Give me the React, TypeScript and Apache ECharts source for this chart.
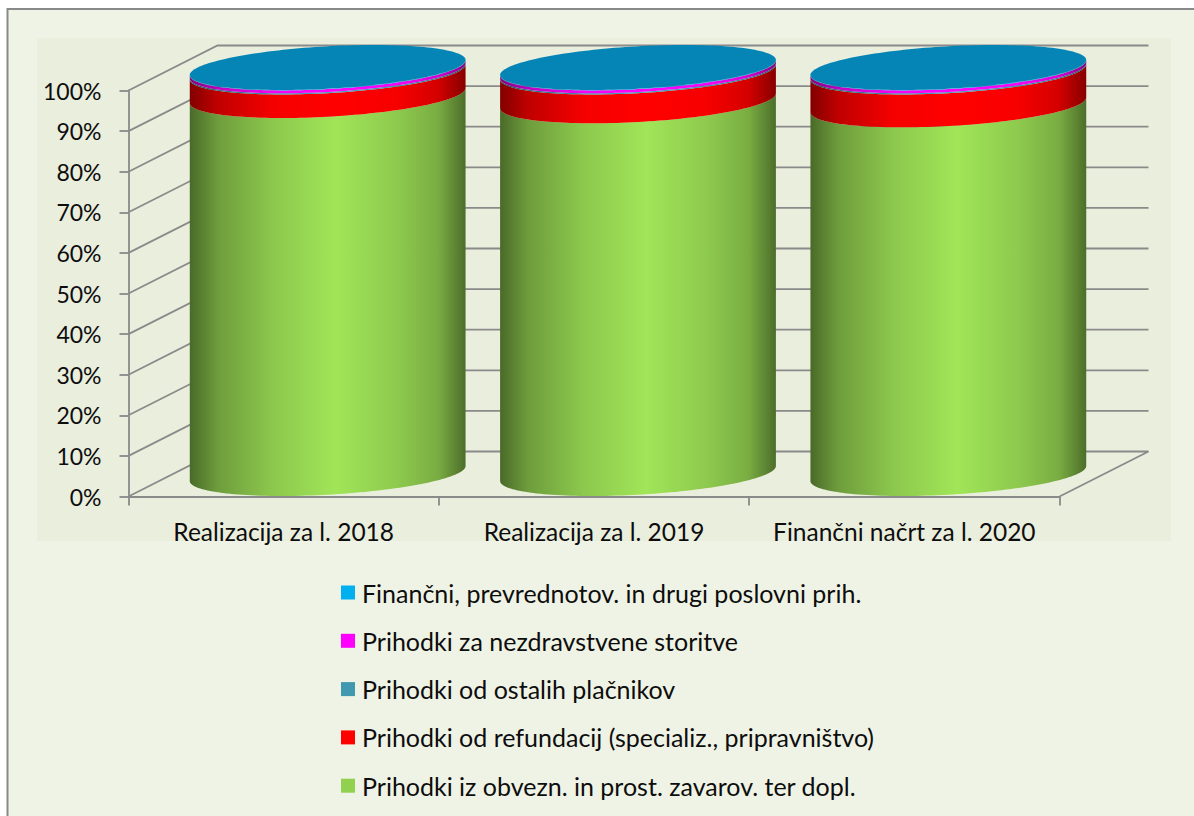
import React, { useEffect, useRef } from "react";
import * as echarts from "echarts";

const categories = ["Realizacija za l. 2018", "Realizacija za l. 2019", "Finančni načrt za l. 2020"];
const tickValues = [0, 10, 20, 30, 40, 50, 60, 70, 80, 90, 100];

const obvezno = [93.1, 91.8, 90.8];
const refundacije = [5.8, 7.1, 8.1];
const ostali = [0.3, 0.3, 0.3];
const nezdravstvene = [0.7, 0.7, 0.7];
const financni = [0.1, 0.1, 0.1];

const seriesNames = [
  "Prihodki iz obvezn. in prost. zavarov. ter dopl.",
  "Prihodki od refundacij (specializ., pripravništvo)",
  "Prihodki od ostalih plačnikov",
  "Prihodki za nezdravstvene storitve",
  "Finančni, prevrednotov. in drugi poslovni prih.",
];
const seriesValues = [obvezno, refundacije, ostali, nezdravstvene, financni];
const seriesColors = ["#92D050", "#FF0000", "#4198AF", "#FF00FF", "#00B0F0"];
const topColor = "#0585B5";
const lineColor = "#8A8A8A";
const FONT = "Lato";

// oblique projection of the 3D box and of the cylinders' circular section
const DEPTH_X = 89;
const DEPTH_Y = -45;
const U = 130;
const VX = 46;
const VY = -22.5;
const CYL_DX = 44;
const CYL_DY = -23;

const hex = (c: string, k: number) => {
  const n = parseInt(c.slice(1), 16);
  const ch = (s: number) => Math.min(255, Math.round(((n >> s) & 255) * k));
  return `rgb(${ch(16)},${ch(8)},${ch(0)})`;
};
const sideFill = (c: string) =>
  new echarts.graphic.LinearGradient(0, 0, 1, 0, [
    { offset: 0, color: hex(c, 0.51) },
    { offset: 0.1, color: hex(c, 0.75) },
    { offset: 0.3, color: hex(c, 0.96) },
    { offset: 0.53, color: hex(c, 1.1) },
    { offset: 0.75, color: hex(c, 0.97) },
    { offset: 0.9, color: hex(c, 0.83) },
    { offset: 1, color: hex(c, 0.53) },
  ]);

const ALPHA = Math.atan2(VX, U);
const at = (c: number[], t: number) => [
  c[0] + U * Math.cos(t) + VX * Math.sin(t),
  c[1] + VY * Math.sin(t),
];
const frontArc = (c: number[]) => {
  const pts: number[][] = [];
  for (let i = 0; i <= 80; i++) pts.push(at(c, -Math.PI + ALPHA + (Math.PI * i) / 80));
  return pts;
};
const fullEllipse = (c: number[]) => {
  const pts: number[][] = [];
  for (let i = 0; i < 160; i++) pts.push(at(c, (2 * Math.PI * i) / 160));
  return pts;
};

const wallSeries = {
  type: "custom",
  silent: true,
  z: 1,
  data: tickValues.map((v) => [0, v]),
  encode: { x: 0, y: 1 },
  renderItem: (params: any, api: any) => {
    const y = api.coord([0, api.value(1)])[1];
    const x0 = params.coordSys.x;
    const x1 = x0 + params.coordSys.width;
    const points = [
      [x0, y],
      [x0 + DEPTH_X, y + DEPTH_Y],
      [x1 + DEPTH_X, y + DEPTH_Y],
    ];
    if (api.value(1) === 0) points.push([x1, y]);
    return {
      type: "polyline",
      shape: { points },
      style: { stroke: lineColor, fill: "none", lineWidth: 1.8 },
    };
  },
};

const cylinderSeries = seriesNames.map((name, si) => ({
  type: "custom",
  name,
  silent: true,
  z: 3 + si,
  itemStyle: { color: seriesColors[si] },
  data: categories.map((_, ci) => {
    let low = 0;
    for (let k = 0; k < si; k++) low += seriesValues[k][ci];
    return [ci, low, low + seriesValues[si][ci]];
  }),
  encode: { x: 0, y: [1, 2] },
  renderItem: (_p: any, api: any) => {
    const lo = api.coord([api.value(0), api.value(1)]);
    const hi = api.coord([api.value(0), api.value(2)]);
    const cLo = [lo[0] + CYL_DX, lo[1] + CYL_DY];
    const cHi = [hi[0] + CYL_DX, hi[1] + CYL_DY];
    const children: any[] = [
      {
        type: "polygon",
        shape: { points: [...frontArc(cHi), ...frontArc(cLo).reverse()] },
        style: { fill: sideFill(seriesColors[si]) },
      },
    ];
    if (si === seriesNames.length - 1) {
      children.push({
        type: "polygon",
        shape: { points: fullEllipse(cHi) },
        style: { fill: topColor },
      });
    }
    return { type: "group", children };
  },
}));

const option: any = {
  animation: false,
  backgroundColor: "transparent",
  graphic: [
    {
      type: "rect",
      z: -10,
      silent: true,
      shape: { x: 7.5, y: 9, width: 1300, height: 1000 },
      style: { fill: "#EFF3E5", stroke: "#898989", lineWidth: 2 },
    },
    {
      type: "rect",
      z: -9,
      silent: true,
      shape: { x: 37, y: 38, width: 1134, height: 503 },
      style: { fill: "#EAEEDD" },
    },
  ],
  grid: { left: 128.5, top: 90.5, width: 931, height: 406 },
  legend: {
    orient: "vertical",
    left: 341,
    top: 580,
    padding: 0,
    itemWidth: 14,
    itemHeight: 14,
    itemGap: 23.3,
    icon: "rect",
    selectedMode: false,
    data: [...seriesNames].reverse(),
    textStyle: {
      fontFamily: FONT,
      fontSize: 25,
      lineHeight: 24,
      color: "#0D0D0D",
      padding: [0, 0, 0, 2],
    },
  },
  xAxis: {
    type: "category",
    data: categories,
    boundaryGap: true,
    axisLine: { lineStyle: { color: lineColor, width: 1.8 } },
    axisTick: { show: true, length: 9, lineStyle: { color: lineColor, width: 1.8 } },
    axisLabel: { fontFamily: FONT, fontSize: 24.5, color: "#0D0D0D", margin: 22, interval: 0 },
    splitLine: { show: false },
  },
  yAxis: {
    type: "value",
    min: 0,
    max: 100,
    interval: 10,
    axisLine: { show: true, lineStyle: { color: lineColor, width: 1.8 } },
    axisTick: { show: true, length: 9, lineStyle: { color: lineColor, width: 1.8 } },
    axisLabel: {
      fontFamily: FONT,
      fontSize: 23,
      color: "#0D0D0D",
      margin: 27,
      formatter: (v: number) => `${v}%`,
    },
    splitLine: { show: false },
  },
  series: [wallSeries, ...cylinderSeries],
};

export default function App() {
  const ref = useRef<HTMLDivElement>(null);
  useEffect(() => {
    const chart = echarts.init(ref.current!, undefined, { renderer: "svg" });
    chart.setOption(option);
    return () => chart.dispose();
  }, []);
  return (
    <div
      ref={ref}
      style={{ position: "absolute", left: 0, top: 0, width: 1194, height: 816, overflow: "hidden" }}
    />
  );
}
